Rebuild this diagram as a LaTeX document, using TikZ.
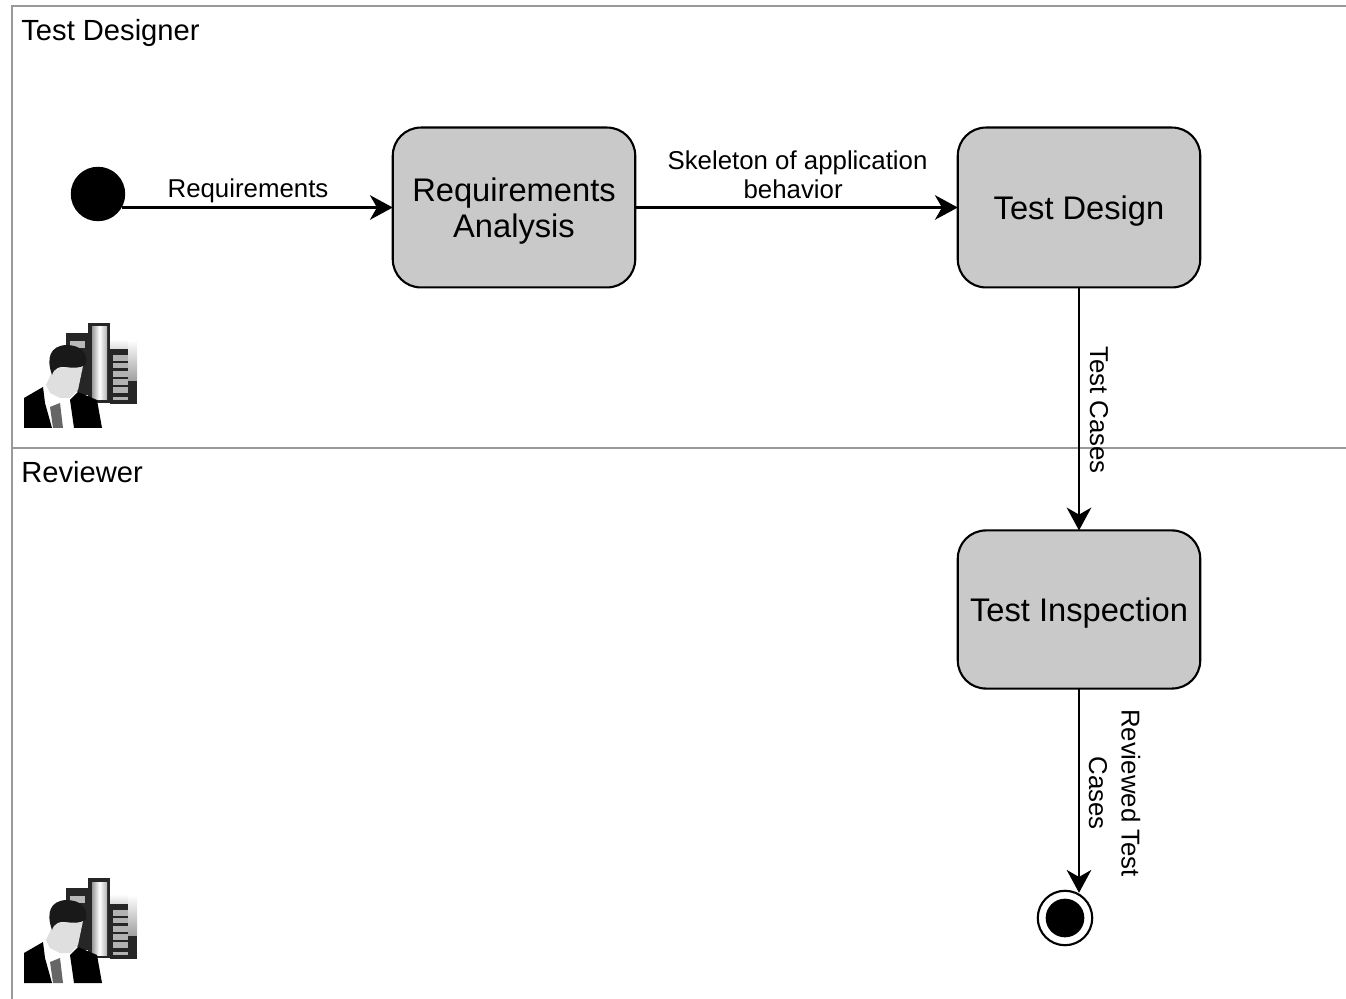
\documentclass[tikz,border=0pt]{standalone}
\usepackage{fontspec}
\setmainfont{Liberation Sans}
\usetikzlibrary{arrows.meta}

\tikzset{
  lane/.style={gray!80,line width=1pt},
  lanetitle/.style={anchor=base west,inner sep=0pt,font=\fontsize{16.6}{19}\selectfont},
  activity/.style={draw,fill=gray!42,line width=1.2pt,rounded corners=16pt,minimum width=138pt,
    inner sep=0pt,outer sep=0pt,align=center,text depth=0pt,font=\fontsize{18.6}{20.5}\selectfont},
  flowlabel/.style={inner sep=0pt,align=center,font=\fontsize{14.7}{16.5}\selectfont},
  flow/.style={line width=1.3pt,-{Stealth[length=13pt,width=14pt,inset=4pt]}},
  bullet/.style={circle,fill=black,inner sep=0pt,outer sep=0pt},
  worker/.pic={
    \shade[top color=white,bottom color=gray!30] (110,339) rectangle (128,350);
    \shade[top color=white,bottom color=gray!75] (128,340) rectangle (137,381);
    \fill[black!85] (128,381) rectangle (137,404);
    \fill[black!85] (110,349) rectangle (128,404);
    \foreach \ya/\yb in {355/361,363/368,371/377,379/385,387/393,397/400}
      \fill[gray!60] (113,\ya) rectangle (128,\yb);
    \fill[black!85] (66,333) rectangle (88,395);
    \fill[gray!55] (70,341) rectangle (85,348);
    \fill[black!85] (88,323) rectangle (110,403);
    \shade[left color=gray!80,right color=gray!60,middle color=white] (92,327) rectangle (107,400);
    \fill[white] (43,384) -- (47,375) -- (78,392) -- (74,428) -- (52,428) -- cycle;
    \fill[gray!25] (54,368) -- (46,385) -- (50,393) -- (60,398) -- (70,398) -- (78,390) -- (83,366) -- cycle;
    \fill[black!90] (52,375) .. controls (46,358) and (50,346) .. (66,345)
      .. controls (80,345) and (88,352) .. (86,364)
      .. controls (80,369) and (72,368) .. (66,367)
      .. controls (60,366) and (54,368) .. (52,375) -- cycle;
    \fill[black] (24,398) -- (43,387) -- (45,403) -- (52,428) -- (24,428) -- cycle;
    \fill[black] (70,400) -- (78,392) -- (97,400) -- (102,428) -- (74,428) -- cycle;
    \fill[black!60] (50,407) -- (60,403) -- (63,428) -- (53,428) -- cycle;
  }
}

\begin{document}
\begin{tikzpicture}[x=0.02cm,y=-0.02cm]
\useasboundingbox (0,0) rectangle (1346,999);

% swimlanes
\draw[lane] (1346,6) -- (12,6) -- (12,999);
\draw[lane] (12,448) -- (1346,448);
\node[lanetitle] (designer) at (21,40.5) {Test Designer};
\node[lanetitle] (reviewer) at (21,483) {Reviewer};
\pic at (0,0) {worker};
\pic at (0,555) {worker};

% states
\node[bullet,minimum size=31pt] (start) at (98,194) {};
\node[activity,minimum height=91pt] (analysis) at (514,207.5) {Requirements\\Analysis};
\node[activity,minimum height=91pt] (design) at (1079,207.5) {Test Design};
\node[activity,minimum height=90pt] (inspection) at (1079,609.5) {Test Inspection};
\node[circle,draw,fill=white,line width=1.2pt,minimum size=31pt,inner sep=0pt,outer sep=0pt] (finish) at (1065,918) {};
\node[bullet,minimum size=22pt] (finishdot) at (1065,918) {};

% flows
\draw[flow] (start.-29 |- analysis.west) -- (analysis.west);
\draw[flow] (analysis.east) -- (design.west);
\draw[flow] (design.south) -- (inspection.north);
\draw[flow,shorten >=1.5pt] (inspection.south) -- (inspection.south |- finish.56);

\node[flowlabel] (requirements) at (248,190.5) {Requirements};
\node[flowlabel] (skeleton) at (797.5,175) {Skeleton of application\\behavior\hspace*{5pt}};
\node[flowlabel,rotate=-90] (cases) at (1099,410) {Test Cases};
\node[flowlabel,rotate=-90] (reviewed) at (1114.5,793) {Reviewed Test\\[2pt]Cases};
\end{tikzpicture}
\end{document}
